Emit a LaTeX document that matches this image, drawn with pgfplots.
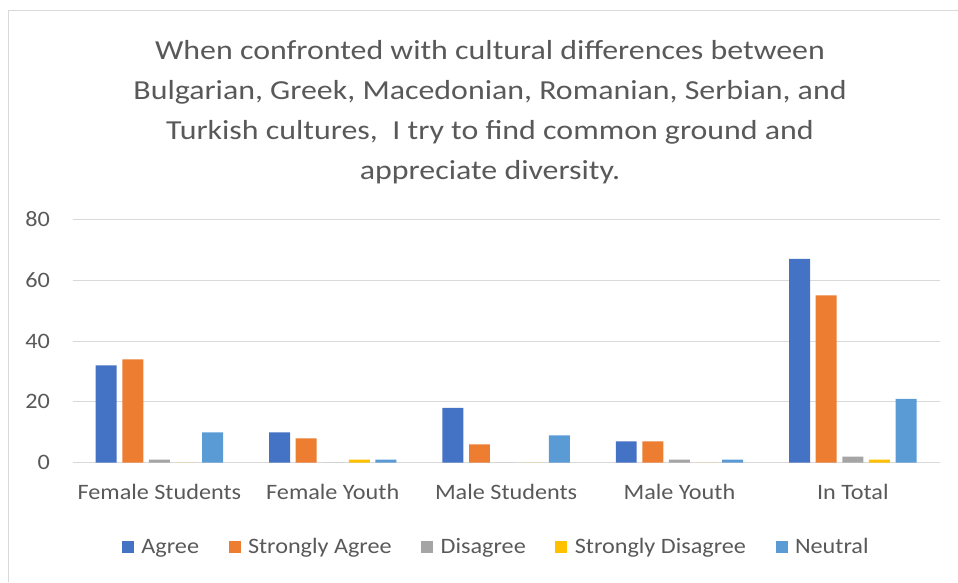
\documentclass[border=0pt]{standalone}
\usepackage{pgfplots}
\pgfplotsset{compat=1.18}
\usepackage{fontspec}
\setmainfont[FakeStretch=1.1]{Carlito}
\newfontfamily\titlefont[FakeStretch=1.16]{Carlito}
\definecolor{agree}{HTML}{4472C4}
\definecolor{sagree}{HTML}{ED7D31}
\definecolor{disagree}{HTML}{A5A5A5}
\definecolor{sdisagree}{HTML}{FFC000}
\definecolor{neutral}{HTML}{5B9BD5}
\definecolor{txt}{HTML}{595959}
\definecolor{gridgray}{HTML}{D9D9D9}
\begin{document}
\begin{tikzpicture}[x=1pt,y=1pt]
\path[use as bounding box] (0,0) rectangle (958,582);
\draw[color=gridgray, line width=0.9pt] (8,0) -- (8,572) -- (958,572);
\node[anchor=north, align=center, inner sep=0pt, text=txt, font=\titlefont\fontsize{27.5}{40}\selectfont] at (490,542) {When confronted with cultural differences between\\Bulgarian, Greek, Macedonian, Romanian, Serbian, and\\Turkish cultures,\ \ I try to find common ground and\\appreciate diversity.};
\begin{axis}[
  at={(72.7pt,119.3pt)}, anchor=south west,
  scale only axis, width=866.8pt, height=243.4pt,
  ymin=0, ymax=80, ytick={0,20,...,80},
  xmin=-0.5, xmax=4.5, xtick={0,1,2,3,4},
  xticklabels={Female Students, Female Youth, Male Students, Male Youth, In Total},
  axis line style={draw=none},
  major tick length=0pt,
  ymajorgrids, grid style={gridgray, line width=0.9pt},
  ybar, bar width=0.121,
  /pgf/number format/assume math mode=true,
  tick label style={text=txt, font=\fontsize{22}{26}\selectfont},
  yticklabel style={anchor=east, inner sep=0pt, xshift=-22.5pt},
  xticklabel style={anchor=north, inner sep=0pt, yshift=-21pt},
  legend columns=5,
  legend style={at={(axis description cs:0.4895,-0.346)}, anchor=center, draw=none, fill=none,
    font=\fontsize{22}{26}\selectfont, text=txt,
    /tikz/every even column/.append style={column sep=26pt},
    /tikz/every odd column/.append style={column sep=4pt},
    nodes={inner sep=3.5pt}},
  legend image code/.code={\fill[#1,draw=none] (0pt,-6pt) rectangle (12pt,6pt);},
]
\addplot[fill=agree, draw=none, bar shift=-0.307] coordinates {(0,32) (1,10) (2,18) (3,7) (4,67)};
\addplot[fill=sagree, draw=none, bar shift=-0.1535] coordinates {(0,34) (1,8) (2,6) (3,7) (4,55)};
\addplot[fill=disagree, draw=none, bar shift=0] coordinates {(0,1) (1,0) (2,0) (3,1) (4,2)};
\addplot[fill=sdisagree, draw=none, bar shift=0.1535] coordinates {(0,0) (1,1) (2,0) (3,0) (4,1)};
\addplot[fill=neutral, draw=none, bar shift=0.307] coordinates {(0,10) (1,1) (2,9) (3,1) (4,21)};
\legend{Agree, Strongly Agree, Disagree, Strongly Disagree, Neutral}
\end{axis}
\end{tikzpicture}
\end{document}
